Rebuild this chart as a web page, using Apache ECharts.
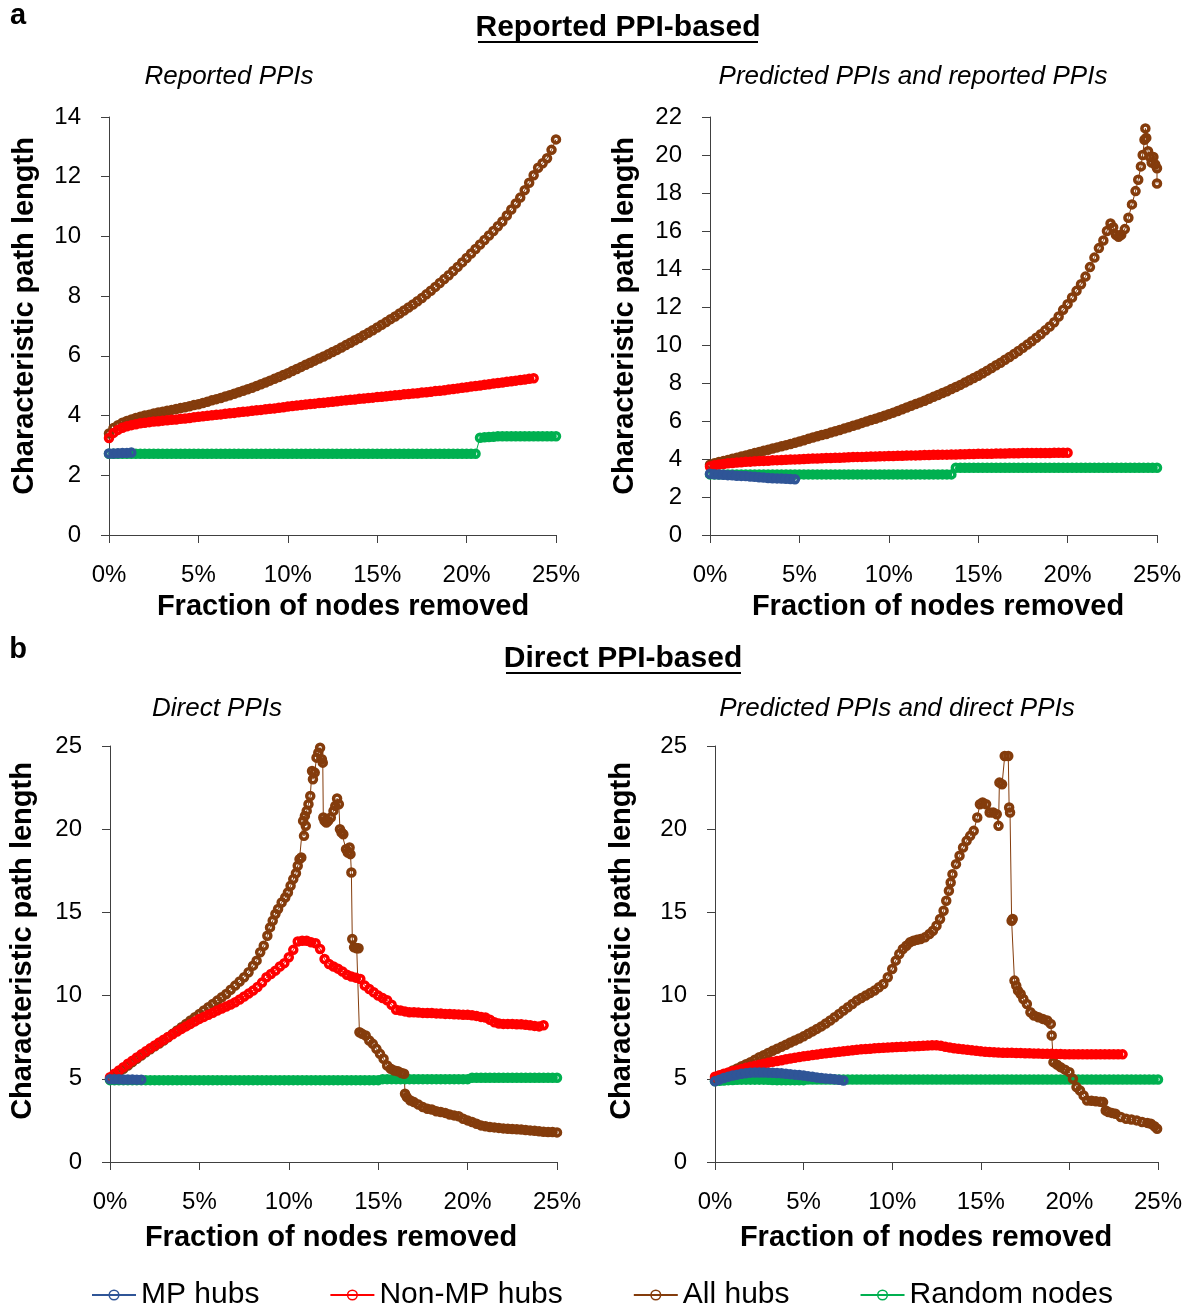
<!DOCTYPE html>
<html><head><meta charset="utf-8">
<script src="https://cdn.jsdelivr.net/npm/echarts/dist/echarts.min.js"></script>
<style>html,body{margin:0;padding:0;background:#fff}#c{width:1193px;height:1309px}</style>
</head><body><div id="c"></div>
<script>
// ---------- data (x in % of nodes removed, y = characteristic path length) ----------
const STEP = 0.25; // sampling step of the uniform value lists, in %
const SERIES_NAMES = ['MP hubs', 'Non-MP hubs', 'All hubs', 'Random nodes'];
const X_TICKS = [0, 5, 10, 15, 20, 25];

// Panel a-left: Reported PPIs
const aL_mp = [2.73,2.73,2.74,2.75,2.75,2.76];
const aL_nonmp = [3.25,3.42,3.52,3.59,3.64,3.68,3.71,3.74,3.76,3.78,
 3.80,3.81,3.83,3.84,3.86,3.87,3.89,3.90,3.92,3.94,
 3.96,3.98,3.99,4.01,4.03,4.04,4.06,4.08,4.09,4.11,
 4.13,4.14,4.16,4.18,4.19,4.21,4.23,4.24,4.26,4.28,
 4.30,4.32,4.34,4.35,4.37,4.39,4.40,4.42,4.43,4.45,
 4.46,4.48,4.50,4.51,4.53,4.54,4.56,4.57,4.59,4.60,
 4.62,4.63,4.65,4.66,4.68,4.69,4.71,4.72,4.74,4.75,
 4.77,4.78,4.80,4.82,4.83,4.85,4.87,4.89,4.91,4.93,
 4.95,4.97,4.99,5.01,5.03,5.05,5.07,5.09,5.11,5.13,
 5.15,5.17,5.19,5.21,5.23,5.25];
const aL_all = [3.40,3.58,3.68,3.76,3.82,3.87,3.92,3.96,4.00,4.03,
 4.07,4.10,4.13,4.16,4.19,4.22,4.25,4.28,4.31,4.35,
 4.38,4.42,4.46,4.51,4.55,4.59,4.64,4.68,4.73,4.78,
 4.83,4.88,4.93,4.99,5.05,5.11,5.17,5.23,5.29,5.36,
 5.42,5.49,5.56,5.63,5.70,5.77,5.84,5.91,5.98,6.05,
 6.13,6.20,6.28,6.36,6.44,6.52,6.60,6.69,6.77,6.86,
 6.95,7.04,7.13,7.23,7.32,7.42,7.52,7.62,7.72,7.83,
 7.94,8.06,8.18,8.31,8.44,8.57,8.70,8.84,8.98,9.13,
 9.28,9.43,9.58,9.73,9.88,10.03,10.18,10.34,10.50,10.70,
 10.90,11.10,11.30,11.55,11.80,12.05,12.30,12.45,12.62,12.90,
 13.25];
const aL_rand = [2.72,2.72,2.72,2.72,2.72,2.72,2.72,2.72,2.72,2.72,
 2.72,2.72,2.72,2.72,2.72,2.72,2.72,2.72,2.72,2.72,
 2.72,2.72,2.72,2.72,2.72,2.72,2.72,2.72,2.72,2.72,
 2.72,2.72,2.72,2.72,2.72,2.72,2.72,2.72,2.72,2.72,
 2.72,2.72,2.72,2.72,2.72,2.72,2.72,2.72,2.72,2.72,
 2.72,2.72,2.72,2.72,2.72,2.72,2.72,2.72,2.72,2.72,
 2.72,2.72,2.72,2.72,2.72,2.72,2.72,2.72,2.72,2.72,
 2.72,2.72,2.72,2.72,2.72,2.72,2.72,2.72,2.72,2.72,
 2.72,2.72,2.72,3.26,3.27,3.28,3.29,3.31,3.31,3.31,
 3.31,3.31,3.31,3.31,3.31,3.31,3.31,3.31,3.31,3.31,
 3.31];

// Panel a-right: Predicted PPIs and reported PPIs
const aR_mp = [3.22,3.20,3.18,3.17,3.15,3.14,3.12,3.11,3.10,3.08,3.06,3.04,3.02,3.00,2.99,2.98,2.97,2.96,2.95,2.93];
const aR_nonmp = [3.60,3.67,3.71,3.74,3.77,3.79,3.81,3.83,3.85,3.86,
 3.88,3.89,3.90,3.91,3.93,3.94,3.95,3.96,3.97,3.98,
 3.99,4.00,4.01,4.02,4.03,4.04,4.05,4.05,4.06,4.07,
 4.08,4.09,4.10,4.11,4.11,4.12,4.13,4.13,4.14,4.15,
 4.16,4.16,4.17,4.17,4.18,4.19,4.19,4.20,4.21,4.21,
 4.22,4.22,4.23,4.23,4.24,4.24,4.25,4.25,4.26,4.26,
 4.27,4.27,4.28,4.28,4.29,4.29,4.29,4.30,4.30,4.30,
 4.31,4.31,4.31,4.32,4.32,4.32,4.32,4.33,4.33,4.33,
 4.33];
const aR_all = [[0,3.70],[0.25,3.78],[0.5,3.84],[0.75,3.89],[1,3.95],[1.25,4.01],[1.5,4.07],[1.75,4.13],[2,4.19],[2.25,4.25],
 [2.5,4.31],[2.75,4.37],[3,4.43],[3.25,4.49],[3.5,4.55],[3.75,4.61],[4,4.67],[4.25,4.73],[4.5,4.79],[4.75,4.85],
 [5,4.92],[5.25,4.99],[5.5,5.06],[5.75,5.13],[6,5.20],[6.25,5.26],[6.5,5.32],[6.75,5.39],[7,5.46],[7.25,5.53],
 [7.5,5.60],[7.75,5.67],[8,5.75],[8.25,5.82],[8.5,5.90],[8.75,5.97],[9,6.05],[9.25,6.12],[9.5,6.20],[9.75,6.28],
 [10,6.36],[10.25,6.44],[10.5,6.53],[10.75,6.62],[11,6.71],[11.25,6.80],[11.5,6.89],[11.75,6.98],[12,7.07],[12.25,7.17],
 [12.5,7.27],[12.75,7.37],[13,7.47],[13.25,7.57],[13.5,7.68],[13.75,7.79],[14,7.90],[14.25,8.02],[14.5,8.14],[14.75,8.26],
 [15,8.38],[15.25,8.51],[15.5,8.65],[15.75,8.79],[16,8.93],[16.25,9.07],[16.5,9.22],[16.75,9.37],[17,9.52],[17.25,9.68],
 [17.5,9.85],[17.75,10.02],[18,10.20],[18.25,10.38],[18.5,10.57],[18.75,10.77],[19,10.97],[19.25,11.20],[19.5,11.50],[19.75,11.85],
 [20,12.15],[20.25,12.50],[20.5,12.85],[20.75,13.20],[21,13.60],[21.25,14.10],[21.5,14.60],[21.75,15.10],[22,15.50],[22.2,16.00],
 [22.4,16.40],[22.55,16.20],[22.7,15.80],[22.85,15.70],[23.0,15.80],[23.2,16.10],[23.4,16.70],[23.6,17.40],[23.8,18.10],[23.95,18.70],
 [24.1,19.40],[24.2,20.00],[24.3,20.80],[24.35,21.40],[24.4,20.90],[24.5,20.20],[24.6,19.90],[24.7,19.60],[24.8,19.90],[24.9,19.50],
 [25.0,19.30],[25.0,18.50]];
const aR_rand = [3.19,3.19,3.19,3.19,3.19,3.19,3.19,3.19,3.19,3.19,
 3.19,3.19,3.19,3.19,3.19,3.19,3.19,3.19,3.19,3.19,
 3.19,3.19,3.19,3.19,3.19,3.19,3.19,3.19,3.19,3.19,
 3.19,3.19,3.19,3.19,3.19,3.19,3.19,3.19,3.19,3.19,
 3.19,3.19,3.19,3.19,3.19,3.19,3.19,3.19,3.19,3.19,
 3.19,3.19,3.19,3.19,3.19,3.54,3.54,3.54,3.54,3.54,
 3.54,3.54,3.54,3.54,3.54,3.54,3.54,3.54,3.54,3.54,
 3.54,3.54,3.54,3.54,3.54,3.54,3.54,3.54,3.54,3.54,
 3.54,3.54,3.54,3.54,3.54,3.54,3.54,3.54,3.54,3.54,
 3.54,3.54,3.54,3.54,3.54,3.54,3.54,3.54,3.54,3.54,
 3.54];

// Panel b-left: Direct PPIs
const bL_mp = [4.98,4.97,4.97,4.96,4.96,4.96,4.95,4.95];
const bL_nonmp = [5.10,5.30,5.50,5.70,5.90,6.09,6.28,6.47,6.65,6.83,
 7.00,7.18,7.35,7.51,7.67,7.84,8.00,8.15,8.30,8.45,
 8.60,8.72,8.85,8.97,9.10,9.22,9.35,9.47,9.60,9.77,
 9.95,10.12,10.30,10.52,10.78,11.10,11.30,11.50,11.75,11.95,
 12.30,12.75,13.25,13.30,13.30,13.20,13.15,12.80,12.20,11.90,
 11.75,11.62,11.45,11.25,11.15,11.08,11.00,10.60,10.40,10.20,
 10.00,9.85,9.72,9.45,9.15,9.10,9.05,9.00,9.00,8.98,
 8.96,8.95,8.95,8.93,8.92,8.90,8.90,8.88,8.87,8.85,
 8.85,8.82,8.78,8.72,8.68,8.55,8.40,8.32,8.30,8.30,
 8.30,8.28,8.28,8.25,8.22,8.18,8.15,8.22];
const bL_all = [[0,5.0],[0.25,5.2],[0.5,5.4],[0.75,5.6],[1,5.8],[1.25,6.0],[1.5,6.2],[1.75,6.4],[2,6.6],[2.25,6.78],
 [2.5,6.95],[2.75,7.12],[3,7.3],[3.25,7.5],[3.5,7.7],[3.75,7.9],[4,8.1],[4.25,8.3],[4.5,8.5],[4.75,8.7],
 [5,8.9],[5.25,9.1],[5.5,9.3],[5.75,9.5],[6,9.7],[6.25,9.9],[6.5,10.1],[6.75,10.35],[7,10.6],[7.25,10.85],
 [7.5,11.1],[7.75,11.4],[8,11.8],[8.2,12.1],[8.4,12.6],[8.6,13.0],[8.8,13.6],[8.95,14.1],[9.1,14.5],[9.25,14.9],
 [9.4,15.2],[9.6,15.6],[9.8,15.9],[9.95,16.2],[10.1,16.6],[10.25,17.0],[10.4,17.35],[10.5,17.8],[10.6,18.2],[10.7,18.3],
 [10.8,20.5],[10.85,19.6],[10.9,20.8],[10.95,20.2],[11.0,21.1],[11.1,21.5],[11.2,22.0],[11.3,23.5],[11.35,23.0],[11.45,23.4],
 [11.55,24.3],[11.65,24.6],[11.75,24.9],[11.85,24.2],[11.9,24.0],[11.93,20.7],[12.0,20.5],[12.1,20.4],[12.2,20.5],[12.35,20.7],
 [12.5,21.1],[12.6,21.4],[12.7,21.85],[12.8,21.5],[12.86,20.0],[12.95,19.8],[13.05,19.7],[13.2,18.8],[13.3,18.6],[13.4,18.9],
 [13.45,18.5],[13.5,17.4],[13.55,13.4],[13.65,12.9],[13.8,12.85],[13.9,12.85],[13.95,7.8],[14.1,7.7],[14.3,7.6],[14.5,7.3],
 [14.7,7.1],[14.9,6.8],[15.1,6.5],[15.3,6.2],[15.5,5.8],[15.7,5.6],[15.9,5.5],[16.1,5.45],[16.3,5.35],[16.45,5.3],
 [16.5,4.1],[16.6,3.9],[16.8,3.7],[17.0,3.6],[17.25,3.45],[17.5,3.3],[17.75,3.2],[18.0,3.15],[18.25,3.05],[18.5,3.0],
 [18.75,2.95],[19.0,2.85],[19.25,2.8],[19.5,2.75],[19.75,2.6],[20.0,2.5],[20.25,2.4],[20.5,2.3],[20.75,2.2],[21.0,2.15],
 [21.25,2.1],[21.5,2.08],[21.75,2.05],[22.0,2.02],[22.25,2.0],[22.5,1.98],[22.75,1.97],[23.0,1.95],[23.25,1.92],[23.5,1.9],
 [23.75,1.88],[24.0,1.85],[24.25,1.82],[24.5,1.8],[24.75,1.8],[25.0,1.78]];
const bL_rand = [4.92,4.92,4.92,4.92,4.92,4.92,4.92,4.92,4.92,4.92,
 4.92,4.92,4.92,4.92,4.92,4.92,4.92,4.92,4.92,4.92,
 4.92,4.92,4.92,4.92,4.92,4.92,4.92,4.92,4.92,4.92,
 4.92,4.92,4.92,4.92,4.92,4.92,4.92,4.92,4.92,4.92,
 4.92,4.92,4.92,4.92,4.92,4.92,4.92,4.92,4.92,4.92,
 4.92,4.92,4.92,4.92,4.92,4.92,4.92,4.92,4.92,4.92,
 4.92,4.98,4.98,4.98,4.98,4.98,4.98,4.98,4.98,4.98,
 4.98,4.98,4.98,4.98,4.98,4.98,4.98,4.98,4.98,4.98,
 4.98,5.06,5.06,5.06,5.06,5.06,5.06,5.06,5.06,5.06,
 5.06,5.06,5.06,5.06,5.06,5.06,5.06,5.06,5.06,5.06,
 5.06];

// Panel b-right: Predicted PPIs and direct PPIs
const bR_mp = [4.85,4.95,5.05,5.13,5.20,5.25,5.30,5.34,5.37,5.38,5.38,5.38,5.37,5.36,5.35,5.33,5.30,5.28,5.25,5.23,5.20,5.16,5.12,5.08,5.05,5.02,5.00,4.97,4.94,4.90];
const bR_nonmp = [5.13,5.22,5.30,5.38,5.45,5.52,5.59,5.66,5.73,5.79,
 5.85,5.91,5.97,6.02,6.07,6.12,6.17,6.22,6.26,6.31,
 6.35,6.39,6.43,6.46,6.50,6.53,6.57,6.60,6.63,6.66,
 6.69,6.72,6.75,6.77,6.79,6.81,6.83,6.85,6.87,6.88,
 6.90,6.91,6.92,6.93,6.95,6.96,6.97,6.98,7.00,7.01,
 7.02,6.98,6.92,6.88,6.84,6.80,6.77,6.74,6.71,6.68,
 6.65,6.63,6.61,6.59,6.58,6.57,6.56,6.56,6.55,6.55,
 6.54,6.53,6.52,6.52,6.51,6.50,6.50,6.49,6.49,6.48,
 6.48,6.48,6.47,6.47,6.47,6.47,6.47,6.47,6.47,6.47,
 6.47,6.47,6.47];
const bR_all = [[0,5.0],[0.25,5.1],[0.5,5.2],[0.75,5.35],[1,5.5],[1.25,5.62],[1.5,5.75],[1.75,5.87],[2,6.0],[2.25,6.15],
 [2.5,6.3],[2.75,6.42],[3,6.55],[3.25,6.68],[3.5,6.8],[3.75,6.92],[4,7.05],[4.25,7.18],[4.5,7.3],[4.75,7.42],
 [5,7.55],[5.25,7.7],[5.5,7.85],[5.75,8.0],[6,8.15],[6.25,8.32],[6.5,8.5],[6.75,8.7],[7,8.9],[7.25,9.1],
 [7.5,9.3],[7.75,9.5],[8,9.7],[8.25,9.85],[8.5,10.0],[8.75,10.15],[9,10.3],[9.25,10.5],[9.5,10.7],[9.75,11.1],
 [10,11.6],[10.2,12.1],[10.4,12.5],[10.6,12.8],[10.8,13.0],[11.0,13.2],[11.2,13.3],[11.4,13.35],[11.6,13.4],[11.85,13.5],
 [12.1,13.7],[12.3,13.9],[12.5,14.2],[12.7,14.6],[12.9,15.1],[13.05,15.7],[13.2,16.3],[13.3,16.8],[13.4,17.3],[13.6,17.9],
 [13.8,18.4],[14.0,18.9],[14.2,19.3],[14.4,19.6],[14.6,19.9],[14.8,20.7],[14.95,21.5],[15.1,21.6],[15.3,21.5],[15.5,21.0],
 [15.7,21.0],[15.9,20.9],[16.0,20.2],[16.05,22.8],[16.2,22.7],[16.35,24.4],[16.55,24.4],[16.6,21.3],[16.65,21.0],[16.74,14.5],
 [16.8,14.6],[16.9,10.9],[17.0,10.6],[17.1,10.3],[17.25,10.1],[17.4,9.8],[17.6,9.5],[17.8,9.0],[18.0,8.8],[18.25,8.7],
 [18.5,8.6],[18.75,8.5],[18.95,8.3],[19.0,7.6],[19.1,6.0],[19.3,5.85],[19.5,5.7],[19.75,5.55],[20.0,5.4],[20.2,5.0],
 [20.4,4.5],[20.6,4.3],[20.8,4.0],[21.0,3.7],[21.25,3.68],[21.5,3.65],[21.75,3.62],[21.9,3.6],[22.05,3.1],[22.2,3.0],
 [22.4,2.95],[22.6,2.9],[22.9,2.7],[23.2,2.6],[23.5,2.55],[23.8,2.5],[24.1,2.4],[24.4,2.35],[24.6,2.3],[24.8,2.15],
 [24.95,2.0]];
const bR_rand = [4.86,4.88,4.90,4.92,4.93,4.94,4.95,4.95,4.95,4.95,
 4.95,4.95,4.94,4.93,4.92,4.92,4.92,4.92,4.92,4.92,
 4.92,4.96,4.96,4.96,4.96,4.96,4.96,4.96,4.96,4.96,
 4.96,4.96,4.96,4.96,4.96,4.96,4.96,4.96,4.96,4.96,
 4.96,4.96,4.96,4.96,4.96,4.96,4.96,4.96,4.96,4.96,
 4.96,4.96,4.96,4.96,4.96,4.96,4.96,4.96,4.96,4.96,
 4.96,4.96,4.96,4.96,4.96,4.96,4.96,4.96,4.96,4.96,
 4.96,4.96,4.96,4.96,4.96,4.96,4.96,4.96,4.96,4.96,
 4.96,4.96,4.96,4.96,4.96,4.96,4.96,4.96,4.96,4.96,
 4.96,4.96,4.96,4.96,4.96,4.96,4.96,4.96,4.96,4.96,
 4.96];

// ---------- build ----------
function seq(vals) { return vals.map((v, i) => [Math.round(i * STEP * 100) / 100, v]); }

const COLORS = { 'MP hubs': '#2F5597', 'Non-MP hubs': '#FF0000', 'All hubs': '#843C0C', 'Random nodes': '#00B050' };
const PANELS = [
  { grid: { left: 109, top: 117, width: 447, height: 418 }, yMax: 14, yInt: 2,
    data: { 'MP hubs': seq(aL_mp), 'Non-MP hubs': seq(aL_nonmp), 'All hubs': seq(aL_all), 'Random nodes': seq(aL_rand) } },
  { grid: { left: 710, top: 117, width: 447, height: 418 }, yMax: 22, yInt: 2,
    data: { 'MP hubs': seq(aR_mp), 'Non-MP hubs': seq(aR_nonmp), 'All hubs': aR_all, 'Random nodes': seq(aR_rand) } },
  { grid: { left: 110, top: 746, width: 447, height: 416 }, yMax: 25, yInt: 5,
    data: { 'MP hubs': seq(bL_mp), 'Non-MP hubs': seq(bL_nonmp), 'All hubs': bL_all, 'Random nodes': seq(bL_rand) } },
  { grid: { left: 715, top: 746, width: 443, height: 416 }, yMax: 25, yInt: 5,
    data: { 'MP hubs': seq(bR_mp), 'Non-MP hubs': seq(bR_nonmp), 'All hubs': bR_all, 'Random nodes': seq(bR_rand) } }
];
const DRAW_ORDER = ['Random nodes', 'All hubs', 'Non-MP hubs', 'MP hubs'];
const FONT = '"Liberation Sans", Arial, sans-serif';
const AXIS_COLOR = '#404040';

const grids = [], xAxes = [], yAxes = [], series = [];
PANELS.forEach((p, k) => {
  grids.push(Object.assign({ containLabel: false }, p.grid));
  xAxes.push({
    type: 'value', gridIndex: k, min: X_TICKS[0], max: X_TICKS[X_TICKS.length - 1], interval: 5,
    axisLine: { show: true, onZero: false, lineStyle: { color: AXIS_COLOR, width: 1 } },
    axisTick: { show: true, length: 8, lineStyle: { color: AXIS_COLOR } },
    axisLabel: { formatter: '{value}%', fontSize: 24, fontFamily: FONT, color: '#000', margin: 28 },
    splitLine: { show: false }
  });
  yAxes.push({
    type: 'value', gridIndex: k, min: 0, max: p.yMax, interval: p.yInt,
    axisLine: { show: true, onZero: false, lineStyle: { color: AXIS_COLOR, width: 1 } },
    axisTick: { show: true, length: 8, lineStyle: { color: AXIS_COLOR } },
    axisLabel: { fontSize: 24, fontFamily: FONT, color: '#000', margin: 28 },
    splitLine: { show: false }
  });
  DRAW_ORDER.forEach(name => {
    const c = COLORS[name];
    series.push({
      type: 'line', name, xAxisIndex: k, yAxisIndex: k, data: p.data[name],
      symbol: 'circle', symbolSize: 7, showAllSymbol: true, clip: false,
      itemStyle: { color: 'rgba(255,255,255,0)', borderColor: c, borderWidth: 3.5 },
      lineStyle: { color: c, width: 1 },
      emphasis: { disabled: true }, animation: false
    });
  });
});

function txt(text, x, y, size, opts) {
  opts = opts || {};
  return {
    type: 'text', x, y, rotation: opts.rot || 0, silent: true,
    style: { text, fontSize: size, fontFamily: FONT, fontWeight: opts.bold ? 'bold' : 'normal',
      fontStyle: opts.italic ? 'italic' : 'normal', fill: '#000', align: 'center', verticalAlign: 'middle' }
  };
}
function uline(x1, x2, y) {
  return { type: 'line', silent: true, shape: { x1, y1: y, x2, y2: y }, style: { stroke: '#000', lineWidth: 2 } };
}

const graphics = [
  txt('a', 18, 16, 29, { bold: true }),
  txt('b', 18, 650, 29, { bold: true }),
  txt('Reported PPI-based', 618, 28, 30, { bold: true }), uline(478, 758, 42),
  txt('Direct PPI-based', 623, 659, 30, { bold: true }), uline(506, 741, 673),
  txt('Reported PPIs', 229, 77, 26, { italic: true }),
  txt('Predicted PPIs and reported PPIs', 913, 77, 26, { italic: true }),
  txt('Direct PPIs', 217, 709, 26, { italic: true }),
  txt('Predicted PPIs and direct PPIs', 897, 709, 26, { italic: true }),
  txt('Characteristic path length', 25, 316, 29, { bold: true, rot: Math.PI / 2 }),
  txt('Characteristic path length', 625, 316, 29, { bold: true, rot: Math.PI / 2 }),
  txt('Characteristic path length', 23, 941, 29, { bold: true, rot: Math.PI / 2 }),
  txt('Characteristic path length', 622, 941, 29, { bold: true, rot: Math.PI / 2 }),
  txt('Fraction of nodes removed', 343, 607, 29, { bold: true }),
  txt('Fraction of nodes removed', 938, 607, 29, { bold: true }),
  txt('Fraction of nodes removed', 331, 1238, 29, { bold: true }),
  txt('Fraction of nodes removed', 926, 1238, 29, { bold: true })
];

const chart = echarts.init(document.getElementById('c'), null, { renderer: 'canvas' });
chart.setOption({
  backgroundColor: '#fff',
  animation: false,
  grid: grids, xAxis: xAxes, yAxis: yAxes, series,
  legend: {
    data: SERIES_NAMES, left: 86, top: 1275, itemWidth: 44, itemHeight: 12, itemGap: 70,
    itemStyle: { borderWidth: 1.5 },
    selectedMode: false, textStyle: { fontSize: 30, fontFamily: FONT, color: '#000' }
  },
  graphic: graphics
});
</script></body></html>
